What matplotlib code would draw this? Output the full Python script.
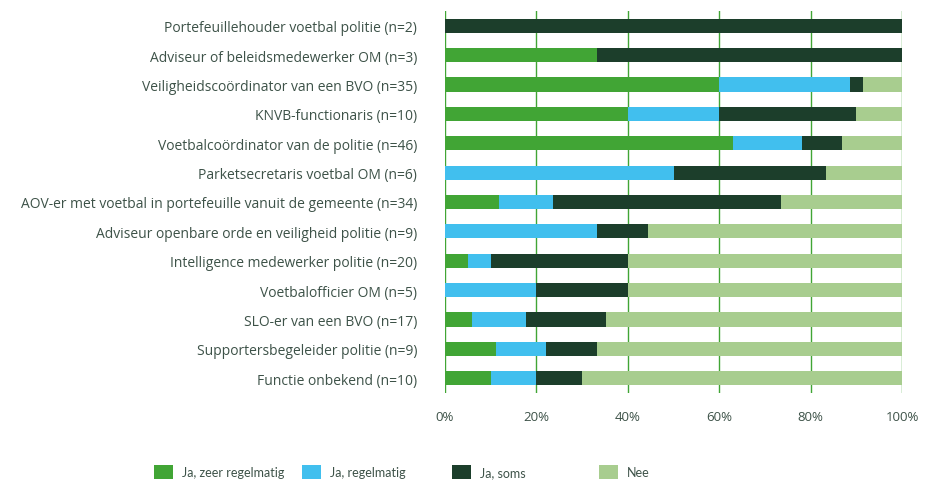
import matplotlib.pyplot as plt
import numpy as np
from matplotlib.patches import Patch

categories = [
    "Portefeuillehouder voetbal politie (n=2)",
    "Adviseur of beleidsmedewerker OM (n=3)",
    "Veiligheidscoördinator van een BVO (n=35)",
    "KNVB-functionaris (n=10)",
    "Voetbalcoördinator van de politie (n=46)",
    "Parketsecretaris voetbal OM (n=6)",
    "AOV-er met voetbal in portefeuille vanuit de gemeente (n=34)",
    "Adviseur openbare orde en veiligheid politie (n=9)",
    "Intelligence medewerker politie (n=20)",
    "Voetbalofficier OM (n=5)",
    "SLO-er van een BVO (n=17)",
    "Supportersbegeleider politie (n=9)",
    "Functie onbekend (n=10)",
]

series_names = ["Ja, zeer regelmatig", "Ja, regelmatig", "Ja, soms", "Nee"]

ja_zeer = [0, 33.3, 60.0, 40, 63.0, 0, 11.8, 0, 5, 0, 5.9, 11.1, 10]
ja_regelmatig = [0, 0, 28.6, 20, 15.2, 50.0, 11.8, 33.3, 5, 20, 11.8, 11.1, 10]
ja_soms = [100, 66.7, 2.9, 30, 8.7, 33.3, 50.0, 11.1, 30, 20, 17.6, 11.1, 10]
nee = [0, 0, 8.6, 10, 13.0, 16.7, 26.5, 55.6, 60, 60, 64.7, 66.7, 70]

colors = ["#41a535", "#41bfee", "#1c3e2b", "#a8cd8f"]
text_color = "#3d5248"

plt.rcParams["font.family"] = ["Open Sans", "DejaVu Sans"]

fig = plt.figure(figsize=(9.37, 4.81), dpi=100)
ax = fig.add_axes([445 / 937, 1 - 394 / 481, 457 / 937, 382 / 481])

y = np.arange(len(categories))
left = np.zeros(len(categories))
for name, vals, c in zip(series_names, [ja_zeer, ja_regelmatig, ja_soms, nee], colors):
    vals = np.array(vals)
    ax.barh(y, vals, left=left, height=0.48, color=c, label=name, zorder=2)
    left = left + vals

ax.set_xlim(0, 100)
ax.set_ylim(len(categories) - 0.5, -0.5)
ax.set_yticks(y)
ax.set_yticklabels(categories, fontsize=10, color=text_color)
ax.set_xticks([0, 20, 40, 60, 80, 100])
ax.set_xticklabels(["0%", "20%", "40%", "60%", "80%", "100%"], fontsize=9.5, color=text_color)
ax.tick_params(axis="both", length=0)
ax.tick_params(axis="y", pad=20)
ax.tick_params(axis="x", pad=12)
for s in ax.spines.values():
    s.set_visible(False)
ax.grid(axis="x", color="#41a535", linewidth=1, zorder=0)
ax.set_axisbelow(True)

# legende en bas, entrées espacées comme dans l'original
leg_x = [154 / 937, 302 / 937, 452 / 937, 599 / 937]
for name, c, lx in zip(series_names, colors, leg_x):
    h = Patch(facecolor=c, edgecolor="none")
    fig.legend([h], [name], loc="center left", bbox_to_anchor=(lx, 1 - 473 / 481),
               frameon=False, prop={"family": ["Lato", "Open Sans"], "size": 9},
               labelcolor=text_color, borderpad=0,
               handlelength=1.5, handleheight=1.45, handletextpad=0.75, borderaxespad=0)

fig.savefig("out.png", dpi=100)
